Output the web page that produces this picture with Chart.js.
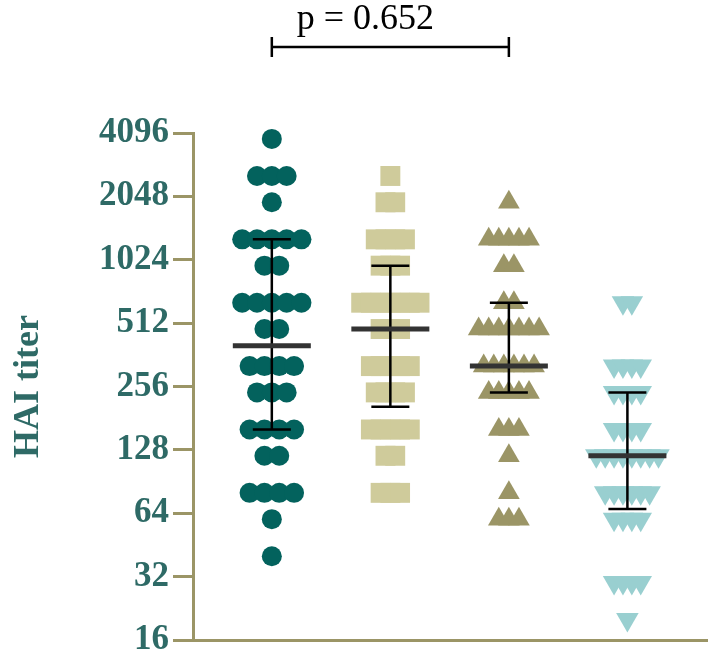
<!DOCTYPE html>
<html>
<head>
<meta charset="utf-8">
<title>HAI titer</title>
<script src="https://cdn.jsdelivr.net/npm/chart.js@4.4.1/dist/chart.umd.min.js"></script>
<style>
  html, body { margin: 0; padding: 0; background: #fff; }
  #wrap { width: 708px; height: 658px; }
</style>
</head>
<body>
<div id="wrap"><canvas id="chart" width="708" height="658"></canvas></div>
<script>
'use strict';

// HAI titers, one entry per animal
var group1 = [3840, 2560, 2560, 2560, 1920, 1280, 1280, 1280, 1280, 1280, 960, 960,
  640, 640, 640, 640, 640, 480, 480, 320, 320, 320, 320, 240, 240, 240,
  160, 160, 160, 160, 120, 120, 80, 80, 80, 80, 60, 40];
var group2 = [2560, 1920, 1920, 1280, 1280, 1280, 1280, 960, 960, 960,
  640, 640, 640, 640, 640, 640, 640, 480, 480, 480, 320, 320, 320, 320, 320,
  240, 240, 240, 240, 160, 160, 160, 160, 160, 120, 120, 80, 80, 80];
var group3 = [1920, 1280, 1280, 1280, 1280, 1280, 960, 960, 640, 640,
  480, 480, 480, 480, 480, 480, 480, 320, 320, 320, 320, 320, 320,
  240, 240, 240, 240, 240, 160, 160, 160, 120, 80, 60, 60, 60];
var group4 = [640, 640, 320, 320, 320, 320, 240, 240, 240, 240, 160, 160, 160, 160,
  120, 120, 120, 120, 120, 120, 120, 120, 80, 80, 80, 80, 80, 80, 60, 60, 60, 60,
  30, 30, 30, 30, 20];

// median with interquartile range, as drawn on each column
var medians = [400, 480, 320, 120];
var q1 = [160, 205, 240, 67];
var q3 = [1280, 960, 640, 240];

var yTicks = [16, 32, 64, 128, 256, 512, 1024, 2048, 4096];
var pLabel = 'p = 0.652';
var pGroups = [1, 3];

var OLIVE = '#9b9566';
var TEAL_TEXT = '#2e6a66';

var groupStyles = [
  { color: '#03625d', shape: 'circle', radius: 10, rotation: 0, step: 0.125 },
  { color: '#cfcb9b', shape: 'rect', radius: 14.1, rotation: 0, step: 0.082 },
  { color: '#9b9566', shape: 'triangle', radius: 12.5, rotation: 0, step: 0.085 },
  { color: '#99cfd0', shape: 'triangle', radius: 13, rotation: 180, step: 0.075 }
];

// lay equal titers side by side, centred on the column
function spread(values, center, step) {
  var rows = {};
  values.forEach(function (v) {
    (rows[v] = rows[v] || []).push(v);
  });
  var pts = [];
  Object.keys(rows).forEach(function (k) {
    var row = rows[k];
    row.forEach(function (v, j) {
      pts.push({ x: center + (j - (row.length - 1) / 2) * step, y: v });
    });
  });
  return pts;
}

var groups = [group1, group2, group3, group4];
var datasets = groups.map(function (values, i) {
  var s = groupStyles[i];
  return {
    data: spread(values, i + 1, s.step),
    pointStyle: s.shape,
    pointRadius: s.radius,
    pointHoverRadius: s.radius,
    pointRotation: s.rotation,
    pointBackgroundColor: s.color,
    pointBorderWidth: 0,
    showLine: false,
    clip: false
  };
});

function noPadding(scale) {
  scale.paddingTop = 0;
  scale.paddingBottom = 0;
  scale.paddingLeft = 0;
  scale.paddingRight = 0;
}

var whitePlugin = {
  id: 'white',
  beforeDraw: function (chart) {
    var ctx = chart.ctx;
    ctx.save();
    ctx.fillStyle = '#fff';
    ctx.fillRect(0, 0, chart.width, chart.height);
    ctx.restore();
  }
};

var summaryPlugin = {
  id: 'summary',
  afterDatasetsDraw: function (chart) {
    var ctx = chart.ctx, xs = chart.scales.x, ys = chart.scales.y;
    ctx.save();
    medians.forEach(function (m, i) {
      var x = xs.getPixelForValue(i + 1);
      var top = ys.getPixelForValue(q3[i]);
      var bot = ys.getPixelForValue(q1[i]);
      var mid = ys.getPixelForValue(m);
      ctx.strokeStyle = '#000';
      ctx.lineWidth = 2.5;
      ctx.beginPath();
      ctx.moveTo(x, top); ctx.lineTo(x, bot);
      ctx.moveTo(x - 19, top); ctx.lineTo(x + 19, top);
      ctx.moveTo(x - 19, bot); ctx.lineTo(x + 19, bot);
      ctx.stroke();
      ctx.strokeStyle = '#333';
      ctx.lineWidth = 5;
      ctx.beginPath();
      ctx.moveTo(x - 39, mid); ctx.lineTo(x + 39, mid);
      ctx.stroke();
    });
    ctx.restore();
  }
};

var bracketPlugin = {
  id: 'bracket',
  afterDraw: function (chart) {
    var ctx = chart.ctx, xs = chart.scales.x;
    var x1 = xs.getPixelForValue(pGroups[0]);
    var x2 = xs.getPixelForValue(pGroups[1]);
    var y = 47;
    ctx.save();
    ctx.strokeStyle = '#000';
    ctx.lineWidth = 2.5;
    ctx.beginPath();
    ctx.moveTo(x1, y); ctx.lineTo(x2, y);
    ctx.moveTo(x1, y - 10); ctx.lineTo(x1, y + 10);
    ctx.moveTo(x2, y - 10); ctx.lineTo(x2, y + 10);
    ctx.stroke();
    ctx.fillStyle = '#000';
    ctx.font = '36px "Liberation Serif", serif';
    ctx.textAlign = 'center';
    ctx.textBaseline = 'alphabetic';
    ctx.fillText(pLabel, (x1 + x2) / 2 - 25, 29);
    ctx.restore();
  }
};

new Chart(document.getElementById('chart'), {
  type: 'scatter',
  data: { datasets: datasets },
  options: {
    responsive: false,
    animation: false,
    events: [],
    layout: { autoPadding: false, padding: { top: 133, bottom: 18, left: 0, right: 0 } },
    plugins: {
      legend: { display: false },
      tooltip: { enabled: false }
    },
    scales: {
      x: {
        type: 'linear',
        min: 0.335,
        max: 4.68,
        grid: { display: false, drawTicks: false },
        ticks: { display: false },
        border: { display: true, color: OLIVE, width: 3 },
        afterFit: function (scale) {
          scale.height = 0;
          noPadding(scale);
        }
      },
      y: {
        type: 'logarithmic',
        min: 16,
        max: 4096,
        afterBuildTicks: function (scale) {
          scale.ticks = yTicks.map(function (v) { return { value: v }; });
        },
        afterFit: function (scale) {
          scale.width = 193;
          noPadding(scale);
        },
        ticks: {
          autoSkip: false,
          padding: 4,
          color: TEAL_TEXT,
          font: { family: '"Liberation Serif", serif', size: 35, weight: 'bold' },
          callback: function (v) { return String(v); }
        },
        grid: {
          drawOnChartArea: false,
          drawTicks: true,
          tickLength: 20,
          tickWidth: 3,
          lineWidth: 3,
          color: OLIVE
        },
        border: { display: true, color: OLIVE, width: 3 },
        title: {
          display: true,
          text: 'HAI titer',
          color: TEAL_TEXT,
          padding: { top: 7, bottom: 0 },
          font: { family: '"Liberation Serif", serif', size: 36, weight: 'bold' }
        }
      }
    }
  },
  plugins: [whitePlugin, summaryPlugin, bracketPlugin]
});
</script>
</body>
</html>
